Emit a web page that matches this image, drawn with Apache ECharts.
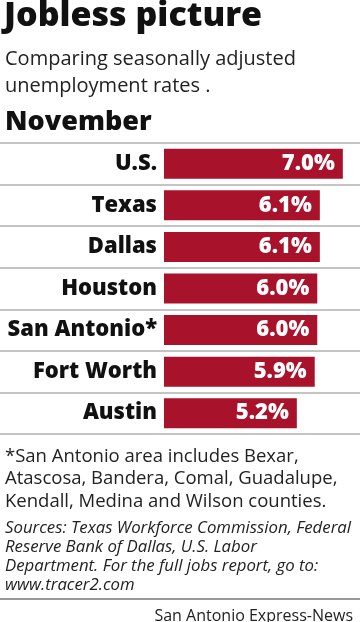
<!DOCTYPE html>
<html><head><meta charset="utf-8">
<script src="https://cdn.jsdelivr.net/npm/echarts@6/dist/echarts.min.js"></script>
<style>html,body{margin:0;padding:0;background:#fff}#c{width:360px;height:622px}</style>
</head><body><div id="c"></div>
<script>
const categories = ['U.S.', 'Texas', 'Dallas', 'Houston', 'San Antonio*', 'Fort Worth', 'Austin'];
const rates = [7.0, 6.1, 6.1, 6.0, 6.0, 5.9, 5.2];

const FONT = '"Open Sans"';
const chart = echarts.init(document.getElementById('c'), null, {renderer: 'canvas'});

chart.setOption({
  animation: false,
  title: [
    {text: 'Jobless picture', left: -1, top: -6, textStyle: {fontFamily: FONT, fontSize: 34, fontWeight: 800, color: '#111'}},
    {text: 'Comparing seasonally adjusted\nunemployment rates .', left: 0, top: 41, textStyle: {fontFamily: FONT, fontSize: 20, fontWeight: 400, color: '#222', lineHeight: 27}},
    {text: 'November', left: 0, top: 104, textStyle: {fontFamily: FONT, fontSize: 27, fontWeight: 800, color: '#111'}},
    {text: '*San Antonio area includes Bexar,\nAtascosa, Bandera, Comal, Guadalupe,\nKendall, Medina and Wilson counties.', left: 0, top: 440, textStyle: {fontFamily: FONT, fontSize: 18.5, fontWeight: 400, color: '#222', lineHeight: 22.5}},
    {text: 'Sources: Texas Workforce Commission, Federal\nReserve Bank of Dallas, U.S. Labor\nDepartment. For the full jobs report, go to:\nwww.tracer2.com', left: 0, top: 514, textStyle: {fontFamily: FONT, fontSize: 16.8, fontWeight: 400, fontStyle: 'italic', color: '#222', lineHeight: 19}},
    {text: 'San Antonio Express-News', right: 2, top: 603, textStyle: {fontFamily: FONT, fontSize: 16, fontWeight: 400, color: '#222'}}
  ],
  grid: [
    {left: 164, right: 4.4, top: 143, height: 291},
    {left: 0, right: 0, top: 143, height: 291}
  ],
  xAxis: [
    {gridIndex: 0, type: 'value', min: 0, max: 7.5, show: false},
    {gridIndex: 1, type: 'value', min: 0, max: 1, show: false}
  ],
  yAxis: [
    {gridIndex: 0, type: 'category', data: categories, inverse: true,
     axisLine: {show: false}, axisTick: {show: false}, splitLine: {show: false},
     axisLabel: {margin: 7, fontFamily: FONT, fontSize: 22, fontWeight: 800, color: '#111'}},
    {gridIndex: 1, type: 'category', data: categories, inverse: true,
     axisLine: {show: false}, axisTick: {show: false}, axisLabel: {show: false},
     splitLine: {show: true, lineStyle: {color: '#c4c4c4', width: 2}}}
  ],
  series: [{
    type: 'bar', xAxisIndex: 0, yAxisIndex: 0, data: rates,
    barWidth: 30,
    itemStyle: {color: '#a8122b'},
    label: {show: true, position: 'insideRight', distance: 8,
      formatter: p => p.value.toFixed(1) + '%',
      fontFamily: FONT, fontSize: 22, fontWeight: 800, color: '#fff'}
  }],
  graphic: [{type: 'rect', shape: {x: 0, y: 598, width: 360, height: 2}, style: {fill: '#999'}}]
});
</script></body></html>
